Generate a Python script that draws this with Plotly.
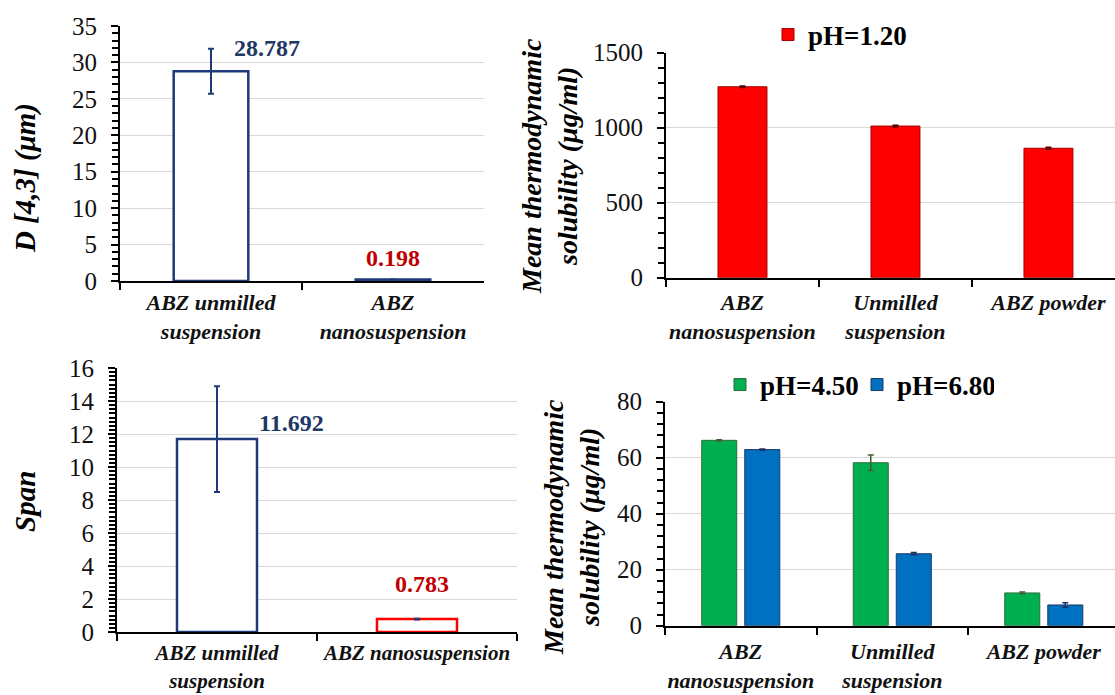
import plotly.graph_objects as go

# ---- data ----
size_cats = ["ABZ unmilled<br>suspension", "ABZ<br>nanosuspension"]
d43_values = [28.787, 0.198]
d43_errors = [3.1, 0.02]

span_cats = ["ABZ unmilled<br>suspension", "ABZ nanosuspension"]
span_values = [11.692, 0.783]
span_errors = [3.2, 0.02]

sol_cats = ["ABZ<br>nanosuspension", "Unmilled<br>suspension", "ABZ powder"]
sol_ph120 = [1273, 1011, 863]
sol_ph120_err = [5, 6, 6]
sol_ph450 = [66.2, 58.2, 11.7]
sol_ph450_err = [0.2, 2.8, 0.3]
sol_ph680 = [62.9, 25.7, 7.4]
sol_ph680_err = [0.2, 0.4, 0.8]

# ---- style ----
FONT = "Liberation Serif, DejaVu Serif, serif"
NAVY = "#1F3A7A"
LABEL_NAVY = "#1F3864"
LABEL_RED = "#C00000"
RED = "#FF0000"
GREEN = "#00B050"
BLUE = "#0070C0"
GRID = "#D9D9D9"
W, H = 1115, 695


def px_x(p):
    return p / W


def px_y(p):
    return 1 - p / H


fig = go.Figure()

# Panel 1: D[4,3]
fig.add_trace(go.Bar(
    x=size_cats, y=d43_values, width=0.41,
    marker=dict(color="white", line=dict(color=NAVY, width=2.5)),
    error_y=dict(type="data", array=d43_errors, color=NAVY, thickness=2, width=3),
    xaxis="x", yaxis="y", showlegend=False,
))

# Panel 2: solubility at pH 1.20
fig.add_trace(go.Bar(
    x=sol_cats, y=sol_ph120, width=0.32, name="pH=1.20",
    marker=dict(color=RED, line=dict(color="#A00000", width=1)),
    error_y=dict(type="data", array=sol_ph120_err, color="#500000", thickness=1.5, width=3),
    xaxis="x2", yaxis="y2", legend="legend",
))

# Panel 3: span
fig.add_trace(go.Bar(
    x=span_cats, y=span_values, width=0.40,
    marker=dict(color="white", line=dict(color=[NAVY, RED], width=2.5)),
    error_y=dict(type="data", array=span_errors, color=NAVY, thickness=2, width=3),
    xaxis="x3", yaxis="y3", showlegend=False,
))

# Panel 4: solubility at pH 4.50 and 6.80
fig.add_trace(go.Bar(
    x=sol_cats, y=sol_ph450, name="pH=4.50",
    marker=dict(color=GREEN, line=dict(color="#2E6B3A", width=1)),
    error_y=dict(type="data", array=sol_ph450_err, color="#3F5F2F", thickness=1.5, width=3),
    xaxis="x4", yaxis="y4", legend="legend2",
))
fig.add_trace(go.Bar(
    x=sol_cats, y=sol_ph680, name="pH=6.80",
    marker=dict(color=BLUE, line=dict(color="#1F3864", width=1)),
    error_y=dict(type="data", array=sol_ph680_err, color="#1F2F64", thickness=1.5, width=3),
    xaxis="x4", yaxis="y4", legend="legend2",
))

tick_font = dict(family=FONT, size=25, color="#111111")


def xaxis_style(domain, anchor, rng, standoff, size=22):
    return dict(
        domain=domain, anchor=anchor, type="category", range=rng,
        showline=True, linecolor="black", linewidth=2,
        ticks="outside", tickson="boundaries", ticklen=7, tickwidth=2, tickcolor="black",
        tickfont=dict(family=FONT, size=size, color="#111111", style="italic", weight="bold"),
        tickangle=0, ticklabelstandoff=standoff,
        showgrid=False, zeroline=False, automargin=False, fixedrange=True,
    )


def yaxis_style(domain, anchor, rng, dtick, minor):
    return dict(
        domain=domain, anchor=anchor, range=rng, dtick=dtick,
        showline=True, linecolor="black", linewidth=2,
        ticks="outside", ticklen=7, tickwidth=2, tickcolor="black",
        minor=dict(dtick=minor, ticks="outside", ticklen=6, tickwidth=2,
                   tickcolor="black", showgrid=False),
        tickfont=tick_font, tickangle=0, ticklabelstandoff=9,
        showgrid=True, gridcolor=GRID, gridwidth=1, zeroline=False,
        automargin=False, fixedrange=True,
    )


fig.update_layout(
    width=W, height=H,
    margin=dict(l=0, r=0, t=0, b=0, autoexpand=False),
    paper_bgcolor="white", plot_bgcolor="white",
    barmode="group", bargap=0.432, bargroupgap=0.186,
    font=dict(family=FONT, color="black"),
    xaxis=xaxis_style([px_x(120), px_x(484)], "y", [-0.5, 1.5], 1),
    yaxis=yaxis_style([px_y(281), px_y(26)], "x", [0, 35], 5, 1),
    xaxis2=xaxis_style([px_x(666), 1.0], "y2", [-0.5, 2.435], 4),
    yaxis2=yaxis_style([px_y(277.7), px_y(52.7)], "x2", [0, 1500], 500, 100),
    xaxis3=xaxis_style([px_x(117), px_x(517)], "y3", [-0.5, 1.5], 1, 21),
    yaxis3=yaxis_style([px_y(632), px_y(368)], "x3", [0, 16], 2, 0.25),
    xaxis4=xaxis_style([px_x(665), 1.0], "y4", [-0.5, 2.47], 5),
    yaxis4=yaxis_style([px_y(625.7), px_y(401.7)], "x4", [0, 80], 20, 4),
    legend=dict(
        orientation="h", x=px_x(768), xanchor="left", y=px_y(35), yanchor="middle",
        font=dict(family=FONT, size=27, color="black", weight="bold"),
        bgcolor="rgba(0,0,0,0)", itemclick=False, itemdoubleclick=False,
    ),
    legend2=dict(
        orientation="h", x=px_x(720), xanchor="left", y=px_y(385), yanchor="middle",
        font=dict(family=FONT, size=27, color="black", weight="bold"),
        bgcolor="rgba(0,0,0,0)", itemclick=False, itemdoubleclick=False,
        entrywidth=92, entrywidthmode="pixels",
    ),
)

# value labels above the size bars
label_font = dict(family=FONT, size=24, weight="bold")
value_labels = [
    ("x", "y", size_cats[0], d43_values[0], LABEL_NAVY, 56, 23),
    ("x", "y", size_cats[1], d43_values[1], LABEL_RED, 0, 22),
    ("x3", "y3", span_cats[0], span_values[0], LABEL_NAVY, 74, 16),
    ("x3", "y3", span_cats[1], span_values[1], LABEL_RED, 5, 35),
]
for xr, yr, cat, val, col, dx, dy in value_labels:
    fig.add_annotation(
        xref=xr, yref=yr, x=cat, y=val, text=f"{val:.3f}", showarrow=False,
        xshift=dx, yshift=dy, font=dict(label_font, color=col),
    )

# axis titles
titles = [
    ("D [4,3] (μm)", 26, 178, 29),
    ("Span", 25, 502, 29),
    ("Mean thermodynamic<br>solubility (μg/ml)", 549, 166, 28),
    ("Mean thermodynamic<br>solubility (μg/ml)", 571, 527, 28),
]
for text, cx, cy, fs in titles:
    fig.add_annotation(
        xref="paper", yref="paper", x=px_x(cx), y=px_y(cy), text=text,
        textangle=-90, showarrow=False, xanchor="center", yanchor="middle",
        font=dict(family=FONT, size=fs, color="black", style="italic", weight="bold"),
    )

fig.write_html("out.html")
